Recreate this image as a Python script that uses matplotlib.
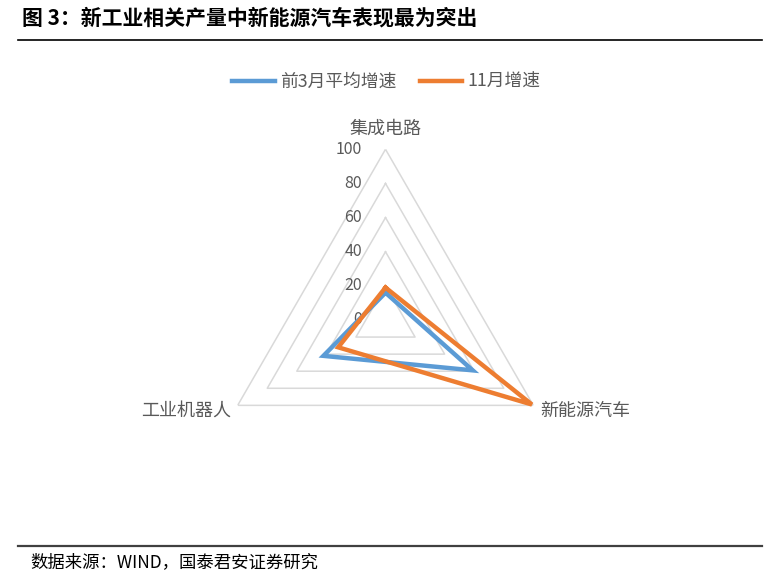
import numpy as np
import matplotlib.pyplot as plt
from matplotlib.lines import Line2D

plt.rcParams['font.family'] = ['Noto Sans CJK SC', 'DejaVu Sans']

categories = ['集成电路', '新能源汽车', '工业机器人']
avg_3m = [16, 59, 42]      # 前3月平均增速
nov = [19, 99, 32]         # 11月增速
series_names = ['前3月平均增速', '11月增速']
rticks = [0, 20, 40, 60, 80, 100]

c_blue = '#5B9BD5'
c_orange = '#ED7D31'
c_grid = '#D9D9D9'
c_text = '#595959'

fig = plt.figure(figsize=(7.73, 5.76), dpi=100)

# page decorations
fig.text(22/773, 1-18/576, '图 3：新工业相关产量中新能源汽车表现最为突出',
         fontsize=15, fontweight='bold', ha='left', va='center', color='black')
fig.add_artist(Line2D([18/773, 762/773], [1-40/576, 1-40/576], color='black', lw=1.2))
fig.add_artist(Line2D([18/773, 762/773], [1-546/576, 1-546/576], color='#404040', lw=1.6))
fig.text(30/773, 1-562/576, '数据来源：WIND，国泰君安证券研究',
         fontsize=12.5, ha='left', va='center', color='black')

# radar axes
cx, cy, rad = 385.5/773, 1-320/576, 170.7
w, h = 2*rad/773, 2*rad/576
ax = fig.add_axes([cx - w/2, cy - h/2, w, h], projection='polar')
ax.set_theta_offset(np.pi/2)
ax.set_theta_direction(-1)
ax.set_ylim(0, 100)
ax.grid(False)
ax.spines['polar'].set_visible(False)
ax.set_xticks([])
ax.set_yticks([])
ax.patch.set_alpha(0)

angles = np.linspace(0, 2*np.pi, len(categories), endpoint=False)
closed = np.concatenate([angles, angles[:1]])

for r in rticks[1:]:
    ax.plot(closed, [r]*len(closed), color=c_grid, lw=1.1, zorder=1)

for r in rticks:
    ax.annotate(str(r), xy=(0, r), xytext=(-17, 0), textcoords='offset points',
                ha='right', va='center', fontsize=11.5, color=c_text,
                annotation_clip=False)

offsets = [(0, 15, 'center'), (5, -4, 'left'), (-5, -4, 'right')]
for ang, lab, (dx, dy, ha) in zip(angles, categories, offsets):
    ax.annotate(lab, xy=(ang, 100), xytext=(dx, dy), textcoords='offset points',
                ha=ha, va='center', fontsize=13, color=c_text, annotation_clip=False)

ax.plot(closed, avg_3m + avg_3m[:1], color=c_blue, lw=3.2, zorder=3,
        solid_joinstyle='miter', label=series_names[0])
ax.plot(closed, nov + nov[:1], color=c_orange, lw=3.2, zorder=4,
        solid_joinstyle='miter', label=series_names[1])

fig.legend(loc='center', bbox_to_anchor=(0.5, 1-82/576), ncol=2, frameon=False,
           fontsize=12.8, labelcolor=c_text, handlelength=2.4, handletextpad=0.3,
           columnspacing=1.3)

fig.savefig('out.png', dpi=100)
